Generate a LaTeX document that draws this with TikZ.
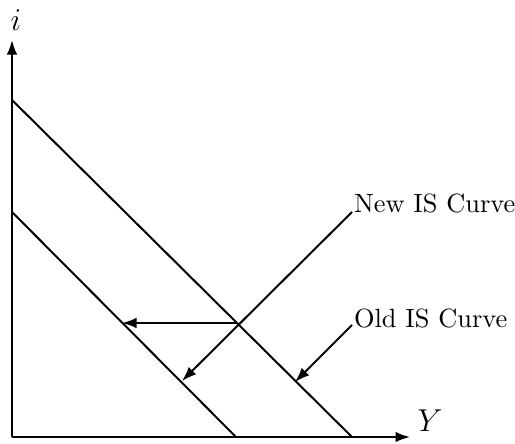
\documentclass[tikz,border=0pt]{standalone}
\usetikzlibrary{arrows.meta}
\begin{document}
\begin{tikzpicture}[x=0.379pt,y=0.379pt,line width=0.75pt,>={Latex[length=5.5pt,width=4pt]}]
\useasboundingbox (0,0) rectangle (515,443);
% axes
\coordinate (O) at (12,6);
\coordinate (itop) at (12,403);
\coordinate (yend) at (410,6);
\draw[->] (O)--(itop);
\draw[->] (O)--(yend);
\node[font=\large] (ilab) at (16,423) {$i$};
\node[font=\large] (ylab) at (430,22) {$Y$};
% IS curves
\coordinate (oldA) at (12,343);
\coordinate (oldB) at (352,6);
\coordinate (newA) at (12,231);
\coordinate (newB) at (236,6);
\draw (oldA)--(oldB);
\draw (newA)--(newB);
% shift
\coordinate (cross) at (237,120);
\coordinate (shift) at (122,120);
\draw[->] (cross)--(shift);
% labels
\node[anchor=base west,inner sep=0pt] (newlab) at (353,231) {New IS Curve};
\node[anchor=base west,inner sep=0pt] (oldlab) at (353,116) {Old IS Curve};
\coordinate (newstart) at (352,231);
\coordinate (newtip) at (182,62);
\coordinate (oldstart) at (352,118);
\coordinate (oldtip) at (295,61);
\draw[->] (newstart)--(newtip);
\draw[->] (oldstart)--(oldtip);
\end{tikzpicture}
\end{document}
